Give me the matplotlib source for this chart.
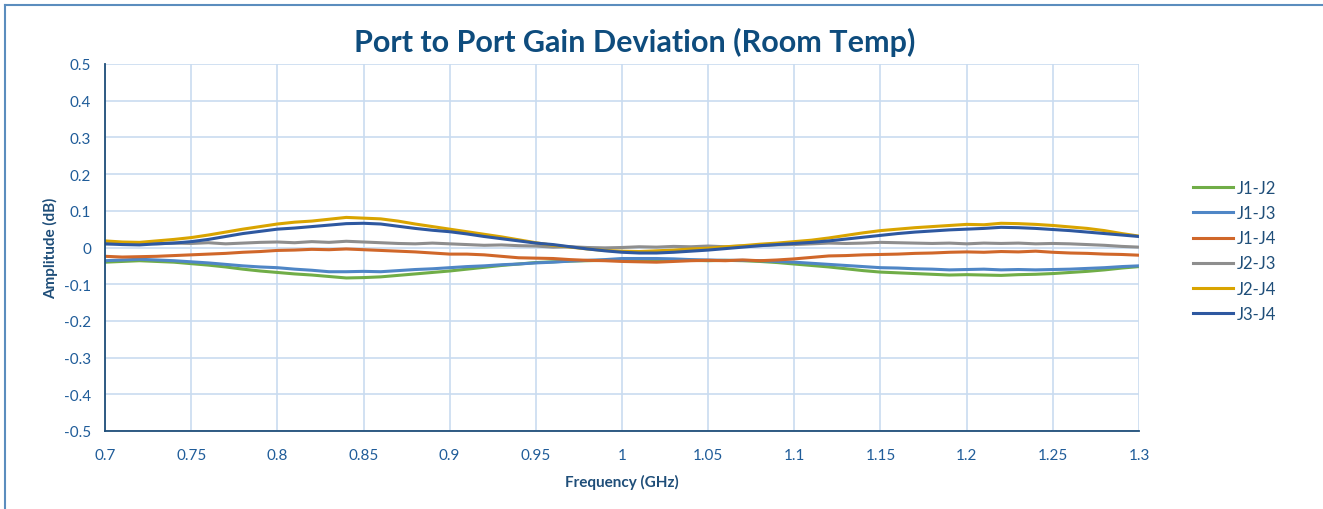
import numpy as np
import matplotlib
matplotlib.use("Agg")
import matplotlib.pyplot as plt
from matplotlib.lines import Line2D

plt.rcParams['font.family'] = ['Lato', 'DejaVu Sans']

# Frequency points (GHz), 10 MHz steps
freq = np.round(np.arange(0.70, 1.305, 0.01), 2)

series_names = ['J1-J2', 'J1-J3', 'J1-J4', 'J2-J3', 'J2-J4', 'J3-J4']

j1_j2 = [-0.040, -0.038, -0.036, -0.038, -0.040, -0.044, -0.048, -0.053, -0.059, -0.064,
         -0.068, -0.072, -0.075, -0.079, -0.083, -0.082, -0.080, -0.076, -0.072, -0.068,
         -0.064, -0.059, -0.054, -0.049, -0.045, -0.041, -0.039, -0.037, -0.036, -0.035,
         -0.035, -0.034, -0.035, -0.034, -0.035, -0.036, -0.035, -0.036, -0.038, -0.041,
         -0.045, -0.049, -0.053, -0.058, -0.063, -0.067, -0.069, -0.071, -0.073, -0.075,
         -0.074, -0.075, -0.076, -0.074, -0.073, -0.071, -0.068, -0.065, -0.061, -0.056,
         -0.052]
j1_j3 = [-0.036, -0.034, -0.032, -0.034, -0.036, -0.039, -0.042, -0.046, -0.050, -0.053,
         -0.055, -0.059, -0.062, -0.066, -0.066, -0.065, -0.066, -0.063, -0.060, -0.058,
         -0.055, -0.052, -0.050, -0.047, -0.045, -0.042, -0.040, -0.037, -0.035, -0.033,
         -0.030, -0.030, -0.030, -0.031, -0.033, -0.034, -0.035, -0.035, -0.036, -0.038,
         -0.040, -0.043, -0.046, -0.049, -0.052, -0.055, -0.056, -0.058, -0.059, -0.061,
         -0.060, -0.059, -0.061, -0.060, -0.061, -0.060, -0.059, -0.057, -0.055, -0.052,
         -0.050]
j1_j4 = [-0.024, -0.026, -0.025, -0.024, -0.022, -0.020, -0.018, -0.016, -0.013, -0.011,
         -0.008, -0.007, -0.005, -0.006, -0.004, -0.006, -0.008, -0.010, -0.012, -0.015,
         -0.018, -0.018, -0.020, -0.024, -0.028, -0.029, -0.030, -0.033, -0.035, -0.036,
         -0.038, -0.039, -0.040, -0.038, -0.036, -0.035, -0.036, -0.034, -0.036, -0.034,
         -0.031, -0.027, -0.023, -0.022, -0.020, -0.019, -0.018, -0.016, -0.015, -0.013,
         -0.012, -0.013, -0.011, -0.012, -0.010, -0.013, -0.015, -0.016, -0.018, -0.019,
         -0.021]
j2_j3 = [0.010, 0.011, 0.012, 0.010, 0.012, 0.011, 0.013, 0.010, 0.012, 0.014,
         0.015, 0.013, 0.016, 0.014, 0.017, 0.015, 0.013, 0.011, 0.010, 0.012,
         0.010, 0.008, 0.006, 0.007, 0.005, 0.004, 0.001, 0.002, 0.000, -0.001,
         0.000, 0.002, 0.001, 0.003, 0.002, 0.004, 0.002, 0.004, 0.005, 0.007,
         0.008, 0.010, 0.012, 0.011, 0.012, 0.014, 0.013, 0.012, 0.011, 0.012,
         0.010, 0.012, 0.011, 0.012, 0.010, 0.011, 0.010, 0.008, 0.006, 0.003,
         0.001]
j2_j4 = [0.018, 0.015, 0.014, 0.018, 0.022, 0.027, 0.034, 0.042, 0.050, 0.057,
         0.064, 0.069, 0.072, 0.077, 0.082, 0.080, 0.078, 0.072, 0.064, 0.057,
         0.050, 0.043, 0.036, 0.029, 0.021, 0.013, 0.006, 0.001, -0.004, -0.008,
         -0.010, -0.011, -0.009, -0.007, -0.004, -0.002, 0.002, 0.005, 0.009, 0.012,
         0.016, 0.020, 0.026, 0.033, 0.040, 0.046, 0.050, 0.054, 0.057, 0.060,
         0.063, 0.062, 0.066, 0.065, 0.063, 0.060, 0.056, 0.052, 0.046, 0.038,
         0.031]
j3_j4 = [0.010, 0.008, 0.007, 0.010, 0.012, 0.016, 0.022, 0.030, 0.038, 0.044,
         0.050, 0.053, 0.057, 0.061, 0.065, 0.066, 0.064, 0.058, 0.052, 0.047,
         0.043, 0.037, 0.030, 0.024, 0.018, 0.012, 0.008, 0.002, -0.004, -0.009,
         -0.013, -0.015, -0.015, -0.013, -0.010, -0.007, -0.003, 0.001, 0.005, 0.008,
         0.011, 0.014, 0.018, 0.023, 0.028, 0.033, 0.038, 0.042, 0.045, 0.048,
         0.050, 0.052, 0.055, 0.054, 0.052, 0.049, 0.046, 0.042, 0.038, 0.034,
         0.030]

series_values = [j1_j2, j1_j3, j1_j4, j2_j3, j2_j4, j3_j4]
colors = ['#70AD47', '#4F86C6', '#D0672A', '#8E8E8E', '#D9A400', '#2E58A0']

x_ticks = [0.7, 0.75, 0.8, 0.85, 0.9, 0.95, 1, 1.05, 1.1, 1.15, 1.2, 1.25, 1.3]
y_ticks = [0.5, 0.4, 0.3, 0.2, 0.1, 0, -0.1, -0.2, -0.3, -0.4, -0.5]

text_col = '#1F4E79'
tick_col = '#1F5C99'

fig = plt.figure(figsize=(13.23, 5.10), dpi=100)
ax = fig.add_axes([105 / 1323, 1 - 432 / 510, (1139 - 105) / 1323, (432 - 65) / 510])

for name, vals, c in zip(series_names, series_values, colors):
    ax.plot(freq, vals, color=c, lw=2.2, label=name)

ax.set_xlim(0.7, 1.3)
ax.set_ylim(-0.5, 0.5)
ax.set_xticks(x_ticks)
ax.set_xticklabels([f'{v:g}' for v in x_ticks])
ax.set_yticks(y_ticks)
ax.set_yticklabels([f'{v:g}' for v in y_ticks])
ax.grid(True, color='#C9DCF0', lw=1.2)
ax.set_axisbelow(True)
ax.tick_params(length=0, labelsize=11, colors=tick_col, pad=12)
ax.tick_params(axis='y', pad=10)

for side in ['top', 'right']:
    ax.spines[side].set_visible(False)
for side in ['left', 'bottom']:
    ax.spines[side].set_color('#1F4E79')
    ax.spines[side].set_linewidth(1.3)

ax.set_xlabel('Frequency (GHz)', fontsize=11, fontweight='bold', color=text_col, labelpad=9)
ax.set_ylabel('Amplitude (dB)', fontsize=11, fontweight='bold', color=text_col, labelpad=4)

fig.text(635 / 1323, 1 - 42 / 510, 'Port to Port Gain Deviation (Room Temp)',
         ha='center', va='center', fontsize=22, fontweight='bold', color='#0E4C7D')

handles = [Line2D([0], [0], color=c, lw=2.2) for c in colors]
fig.legend(handles, series_names, loc='upper left', bbox_to_anchor=(1178 / 1323, 1 - 166 / 510),
           frameon=False, fontsize=12, labelcolor=text_col, handlelength=2.4,
           handletextpad=0.2, labelspacing=0.55)

# outer chart frame (only left and top edges fall inside the picture)
fig.add_artist(Line2D([5 / 1323, 5 / 1323], [0, 1 - 6 / 510], color='#5B8DBE', lw=1.5))
fig.add_artist(Line2D([5 / 1323, 1], [1 - 6 / 510, 1 - 6 / 510], color='#5B8DBE', lw=1.5))

fig.savefig('out.png', dpi=100)
